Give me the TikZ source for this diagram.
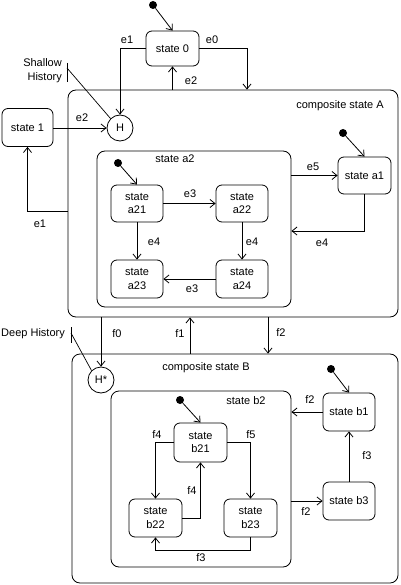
\documentclass[tikz,border=0pt]{standalone}
\usepackage{fontspec}
\setmainfont{Liberation Sans}
\usetikzlibrary{arrows.meta,calc}
\begin{document}
\begin{tikzpicture}[x=1pt,y=-1pt,
  every node/.style={font=\fontsize{11}{13.5}\selectfont, inner sep=0pt},
  st/.style={draw, rounded corners=6pt, line width=0.8pt, align=center},
  comp/.style={draw, rounded corners=8pt, line width=0.8pt},
  hist/.style={draw, circle, minimum size=26pt, line width=0.8pt},
  initdot/.style={fill, circle, minimum size=8pt},
  tr/.style={draw, line width=0.8pt, -{Straight Barb[length=5pt,width=8pt]}},
  plain/.style={draw, line width=0.7pt},
  lbl/.style={}]
\useasboundingbox (0,0) rectangle (400,585);
% composite A
\node[comp, minimum width=330pt, minimum height=227pt] (compA) at (233,203.5) {};
\node[lbl] (tA) at (340,106) {composite state A};
\node[comp, minimum width=194pt, minimum height=156pt] (a2) at (194,229) {};
\node[lbl] (ta2) at (175,159) {state a2};
% states
\node[initdot] (d0) at (153,5) {};
\node[st, minimum width=53pt, minimum height=35pt] (s0) at (172.5,48.5) {state 0};
\node[st, minimum width=51pt, minimum height=38pt] (s1) at (27.5,127.5) {state 1};
\node[hist] (H) at (120,128) {H};
\node[initdot] (da1) at (343,133) {};
\node[st, minimum width=53pt, minimum height=37pt] (a1) at (364.5,175.5) {state a1};
\node[initdot] (da2) at (118,163) {};
\node[st, minimum width=52pt, minimum height=37pt] (a21) at (137,203.5) {state\\a21};
\node[st, minimum width=52pt, minimum height=37pt] (a22) at (242,203.5) {state\\a22};
\node[st, minimum width=52pt, minimum height=38pt] (a23) at (137,279) {state\\a23};
\node[st, minimum width=52pt, minimum height=38pt] (a24) at (242,279) {state\\a24};
% composite B
\node[comp, minimum width=326pt, minimum height=229pt] (compB) at (235,468.5) {};
\node[lbl] (tB) at (206,368) {composite state B};
\node[hist] (Hs) at (101,380) {H*};
\node[comp, minimum width=180pt, minimum height=176pt] (b2) at (201,479) {};
\node[lbl] (tb2) at (246,401) {state b2};
\node[initdot] (db2) at (180,400) {};
\node[st, minimum width=53pt, minimum height=39pt] (b21) at (200.5,442.5) {state\\b21};
\node[st, minimum width=53pt, minimum height=38pt] (b22) at (155.5,518) {state\\b22};
\node[st, minimum width=53pt, minimum height=38pt] (b23) at (250.5,518) {state\\b23};
\node[initdot] (db1) at (331,369) {};
\node[st, minimum width=52pt, minimum height=38pt] (b1) at (349,412) {state b1};
\node[st, minimum width=52pt, minimum height=38pt] (b3) at (349,501) {state b3};
% history notes
\node[lbl, anchor=east, align=right] (tsh) at (62,70.5) {Shallow\\History};
\coordinate (shT) at (67,63);
\coordinate (shB) at (67,82);
\coordinate (shM) at (67,68);
\draw[plain] (shT) -- (shB);
\draw[plain] (shM) -- (H.north west);
\node[lbl, anchor=east] (tdh) at (65,334) {Deep History};
\coordinate (dhT) at (71,327);
\coordinate (dhB) at (71,343);
\coordinate (dhM) at (71,333);
\draw[plain] (dhT) -- (dhB);
\draw[plain] (dhM) -- (Hs.north west);
% transitions top
\draw[tr] (d0) -- (s0.north);
\draw[tr] (s0.west) -| (H.north);
\node[lbl] (le1a) at (127,40) {e1};
\draw[tr] (s0.east) -| (247,0 |- compA.north);
\node[lbl] (le0) at (212,40) {e0};
\draw[tr] (s0.south |- compA.north) -- (s0.south);
\node[lbl] (le2a) at (191,81) {e2};
\draw[tr] (s1.east |- H.west) -- (H.west);
\node[lbl] (le2b) at (82,118) {e2};
\draw[tr] (compA.west |- 0,211) -| (s1.south);
\node[lbl] (le1b) at (40,224) {e1};
% inside A
\draw[tr] (da1) -- (a1.north);
\draw[tr] (a2.east |- a1.west) -- (a1.west);
\node[lbl] (le5) at (313,167) {e5};
\draw[tr] (a1.south) |- (a2.east |- 0,231);
\node[lbl] (le4c) at (322,243) {e4};
\draw[tr] (da2) -- (a21.north);
\draw[tr] (a21.east) -- (a22.west);
\node[lbl] (le3a) at (190,194) {e3};
\draw[tr] (a21.south) -- (a23.north);
\node[lbl] (le4a) at (154,242) {e4};
\draw[tr] (a22.south) -- (a24.north);
\node[lbl] (le4b) at (252,242) {e4};
\draw[tr] (a24.west) -- (a23.east);
\node[lbl] (le3b) at (192,289) {e3};
% between A and B
\draw[tr] (Hs.north |- compA.south) -- (Hs.north);
\node[lbl] (lf0) at (117,334) {f0};
\draw[tr] (190,0 |- compB.north) -- (190,0 |- compA.south);
\node[lbl] (lf1) at (180,334) {f1};
\draw[tr] (268,0 |- compA.south) -- (268,0 |- compB.north);
\node[lbl] (lf2a) at (281,333) {f2};
% inside B
\draw[tr] (db2) -- (b21.north);
\draw[tr] (db1) -- (b1.north);
\draw[tr] (b1.west) -- (b2.east |- b1.west);
\node[lbl] (lf2b) at (310,400) {f2};
\draw[tr] (b21.west) -| (b22.north);
\node[lbl] (lf4a) at (157,435) {f4};
\draw[tr] (b21.east) -| (b23.north);
\node[lbl] (lf5) at (251,435) {f5};
\draw[tr] (b22.east) -| (b21.south);
\node[lbl] (lf4b) at (192,491) {f4};
\draw[tr] (b23.south) -- ++(0,13) -| (b22.south);
\node[lbl] (lf3a) at (201,558) {f3};
\draw[tr] (b2.east |- b3.west) -- (b3.west);
\node[lbl] (lf2c) at (306,512) {f2};
\draw[tr] (b3.north) -- (b1.south);
\node[lbl] (lf3b) at (367,456) {f3};
\end{tikzpicture}
\end{document}
